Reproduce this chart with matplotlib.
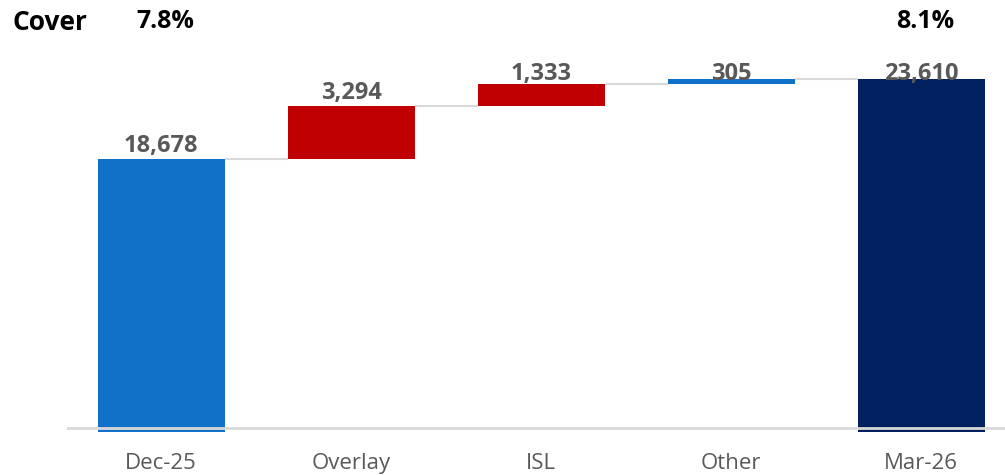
import numpy as np
import matplotlib
matplotlib.use("Agg")
import matplotlib.pyplot as plt
import matplotlib.transforms as mtransforms

plt.rcParams['font.family'] = ['Open Sans', 'DejaVu Sans']

# data
categories = ["Dec-25", "Overlay", "ISL", "Other", "Mar-26"]
values = [18678, 3294, 1333, 305, 23610]
kinds = ["total", "delta", "delta", "delta", "total"]
bar_colors = ["#1170C8", "#C00000", "#C00000", "#1170C8", "#002060"]
cover_labels = {"Dec-25": "7.8%", "Mar-26": "8.1%"}

W, H = 1005, 475
fig = plt.figure(figsize=(W / 100, H / 100), dpi=100)
ax_l, ax_r, ax_t, ax_b = 67, 1005, 63, 432
ax = fig.add_axes([ax_l / W, (H - ax_b) / H, (ax_r - ax_l) / W, (ax_b - ax_t) / H])

ymin, ymax = 1850, 24600
ax.set_ylim(ymin, ymax)
ax.set_xlim(-0.495, 4.44)
px = (ax_b - ax_t) / (ymax - ymin)  # pixels per unit

# waterfall bottoms/tops
bottoms, tops = [], []
running = 0
for v, k in zip(values, kinds):
    if k == "total":
        bottoms.append(0)
        tops.append(v)
        running = v
    else:
        bottoms.append(running)
        running += v
        tops.append(running)

x = np.arange(len(categories))
width = 0.668
heights = [t - b for t, b in zip(tops, bottoms)]
ax.bar(x, heights, bottom=bottoms, width=width, color=bar_colors, zorder=2)

# connectors
for i in range(len(x) - 1):
    ax.plot([x[i] + width / 2, x[i + 1] - width / 2], [tops[i], tops[i]],
            color="#D9D9D9", lw=1.5, zorder=1, solid_capstyle="butt")

# value labels, kept inside plot area like excel does
pad = 7 / px
cap = ymax - 17 / px
for xi, t, v in zip(x, tops, values):
    y = min(t + pad, cap)
    ax.text(xi, y, f"{v:,}", ha="center", va="baseline", fontsize=17,
            fontweight="bold", color="#595959", zorder=3)

# axis line
ax.axhline(ymin + 4 / px, color="#D9D9D9", lw=2, zorder=3)
for s in ax.spines.values():
    s.set_visible(False)
ax.set_yticks([])
ax.set_xticks(x)
ax.set_xticklabels(categories, fontsize=16, color="#595959")
ax.tick_params(axis="x", length=0, pad=15)

# cover row
fig.text(12 / W, 1 - 22 / H, "Cover", fontsize=19, fontweight="bold",
         color="black", ha="left", va="center")
trans = mtransforms.blended_transform_factory(ax.transData, fig.transFigure)
for xi, c in zip(x, categories):
    if c in cover_labels:
        ax.text(xi + 0.02, 1 - 22 / H, cover_labels[c], transform=trans, fontsize=18,
                fontweight="bold", color="black", ha="center", va="center")

fig.savefig("out.png", dpi=100)
